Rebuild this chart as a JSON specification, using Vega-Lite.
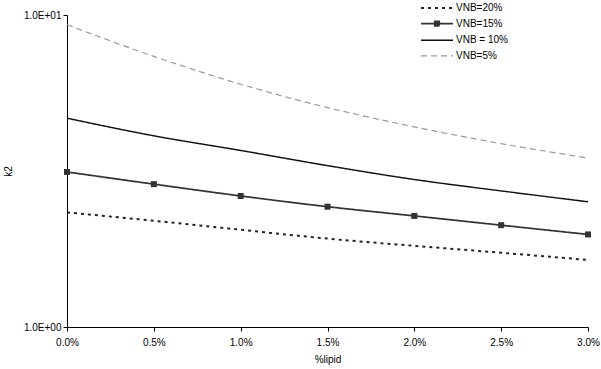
{
  "$schema": "https://vega.github.io/schema/vega-lite/v6.json",
  "width": 521,
  "height": 312,
  "autosize": {"type": "none"},
  "padding": {"left": 67, "top": 15, "right": 13, "bottom": 42},
  "background": "white",
  "config": {
    "view": {"stroke": null},
    "font": "Liberation Sans",
    "axis": {
      "domainColor": "black",
      "tickColor": "black",
      "labelColor": "black",
      "titleColor": "black",
      "labelFont": "Liberation Sans",
      "titleFont": "Liberation Sans",
      "labelFontSize": 10,
      "titleFontSize": 10,
      "titleFontWeight": "normal",
      "grid": false,
      "tickSize": 4
    },
    "legend": {
      "labelFont": "Liberation Sans",
      "labelFontSize": 10,
      "labelColor": "black"
    }
  },
  "data": {
    "values": [
      {"lipid": 0.000, "series": "VNB=20%", "k2": 2.33},
      {"lipid": 0.005, "series": "VNB=20%", "k2": 2.19},
      {"lipid": 0.010, "series": "VNB=20%", "k2": 2.05},
      {"lipid": 0.015, "series": "VNB=20%", "k2": 1.92},
      {"lipid": 0.020, "series": "VNB=20%", "k2": 1.82},
      {"lipid": 0.025, "series": "VNB=20%", "k2": 1.73},
      {"lipid": 0.030, "series": "VNB=20%", "k2": 1.64},
      {"lipid": 0.000, "series": "VNB=15%", "k2": 3.14},
      {"lipid": 0.005, "series": "VNB=15%", "k2": 2.87},
      {"lipid": 0.010, "series": "VNB=15%", "k2": 2.63},
      {"lipid": 0.015, "series": "VNB=15%", "k2": 2.43},
      {"lipid": 0.020, "series": "VNB=15%", "k2": 2.27},
      {"lipid": 0.025, "series": "VNB=15%", "k2": 2.12},
      {"lipid": 0.030, "series": "VNB=15%", "k2": 1.98},
      {"lipid": 0.000, "series": "VNB = 10%", "k2": 4.67},
      {"lipid": 0.005, "series": "VNB = 10%", "k2": 4.10},
      {"lipid": 0.010, "series": "VNB = 10%", "k2": 3.68},
      {"lipid": 0.015, "series": "VNB = 10%", "k2": 3.29},
      {"lipid": 0.020, "series": "VNB = 10%", "k2": 2.97},
      {"lipid": 0.025, "series": "VNB = 10%", "k2": 2.73},
      {"lipid": 0.030, "series": "VNB = 10%", "k2": 2.52},
      {"lipid": 0.000, "series": "VNB=5%", "k2": 9.31},
      {"lipid": 0.005, "series": "VNB=5%", "k2": 7.37},
      {"lipid": 0.010, "series": "VNB=5%", "k2": 6.00},
      {"lipid": 0.015, "series": "VNB=5%", "k2": 5.05},
      {"lipid": 0.020, "series": "VNB=5%", "k2": 4.38},
      {"lipid": 0.025, "series": "VNB=5%", "k2": 3.87},
      {"lipid": 0.030, "series": "VNB=5%", "k2": 3.48}
    ]
  },
  "encoding": {
    "x": {
      "field": "lipid",
      "type": "quantitative",
      "scale": {"domain": [0, 0.03], "nice": false, "zero": false},
      "axis": {
        "title": "%lipid",
        "values": [0, 0.005, 0.01, 0.015, 0.02, 0.025, 0.03],
        "format": ".1%",
        "labelPadding": 6,
        "titlePadding": 7,
        "labelFlush": false
      }
    },
    "y": {
      "field": "k2",
      "type": "quantitative",
      "scale": {"type": "log", "domain": [1, 10], "nice": false},
      "axis": {
        "title": "k2",
        "values": [1, 10],
        "labelExpr": "datum.value >= 10 ? '1.0E+01' : '1.0E+00'",
        "labelPadding": 2,
        "titlePadding": 10
      }
    }
  },
  "layer": [
    {
      "mark": {"type": "line", "interpolate": "monotone"},
      "encoding": {
        "color": {
          "field": "series",
          "type": "nominal",
          "sort": ["VNB=20%", "VNB=15%", "VNB = 10%", "VNB=5%"],
          "scale": {
            "domain": ["VNB=20%", "VNB=15%", "VNB = 10%", "VNB=5%"],
            "range": ["#222222", "#333333", "#111111", "#999999"]
          },
          "legend": {
            "title": null,
            "orient": "none",
            "legendX": 364,
            "legendY": -13,
            "symbolSize": 100,
            "rowPadding": 4.6,
            "labelOffset": 13,
            "symbolStrokeWidth": 1.5,
            "encode": {
              "symbols": {
                "update": {
                  "shape": {"signal": "datum.value === 'VNB=15%' ? 'M-3.2,0H3.2M-0.45,-0.45H0.45V0.45H-0.45Z' : 'M-3.2,0H3.2'"},
                  "fill": {"signal": "datum.value === 'VNB=15%' ? '#333333' : 'transparent'"}
                }
              }
            }
          }
        },
        "strokeDash": {
          "field": "series",
          "type": "nominal",
          "sort": ["VNB=20%", "VNB=15%", "VNB = 10%", "VNB=5%"],
          "scale": {
            "domain": ["VNB=20%", "VNB=15%", "VNB = 10%", "VNB=5%"],
            "range": [[3, 4], [1, 0], [1, 0], [6, 4]]
          }
        },
        "strokeWidth": {
          "field": "series",
          "type": "nominal",
          "sort": ["VNB=20%", "VNB=15%", "VNB = 10%", "VNB=5%"],
          "scale": {
            "domain": ["VNB=20%", "VNB=15%", "VNB = 10%", "VNB=5%"],
            "range": [2, 1.2, 1, 1]
          }
        }
      }
    },
    {
      "transform": [{"filter": "datum.series === 'VNB=15%'"}],
      "mark": {"type": "square", "size": 36, "color": "#333333", "opacity": 1}
    }
  ]
}
